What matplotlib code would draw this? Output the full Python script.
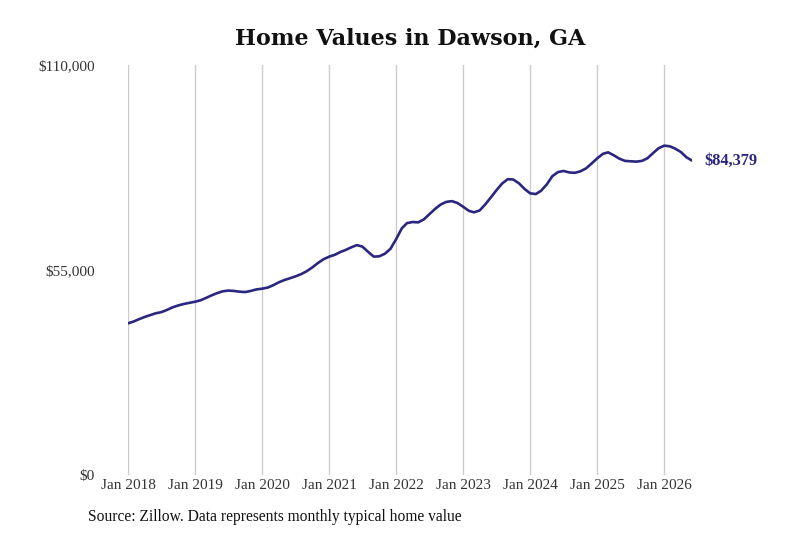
import numpy as np
import pandas as pd
import matplotlib
matplotlib.use("Agg")
import matplotlib.pyplot as plt

# Monthly typical home value, Jan 2018 - Jun 2026
values_2018 = [40700, 41200, 41800, 42400, 42900, 43400, 43700, 44300, 45000, 45500, 45900, 46200]
values_2019 = [46500, 46900, 47500, 48200, 48800, 49300, 49500, 49400, 49200, 49100, 49400, 49800]
values_2020 = [50000, 50300, 50900, 51700, 52300, 52800, 53300, 53900, 54700, 55700, 56900, 57900]
values_2021 = [58600, 59100, 59800, 60400, 61100, 61700, 61300, 59900, 58600, 58700, 59400, 60700]
values_2022 = [63300, 66200, 67600, 67900, 67800, 68600, 70000, 71400, 72600, 73300, 73500, 73000]
values_2023 = [72000, 70900, 70500, 71000, 72600, 74500, 76400, 78200, 79400, 79300, 78300, 76800]
values_2024 = [75600, 75400, 76300, 78000, 80200, 81300, 81600, 81200, 81100, 81500, 82300, 83600]
values_2025 = [85000, 86200, 86600, 85800, 84900, 84300, 84200, 84100, 84300, 85000, 86400, 87700]
values_2026 = [88400, 88200, 87600, 86700, 85300, 84379]

values = (values_2018 + values_2019 + values_2020 + values_2021 + values_2022
          + values_2023 + values_2024 + values_2025 + values_2026)
dates = pd.date_range("2018-01-01", periods=len(values), freq="MS")

tick_years = list(range(2018, 2027))
tick_dates = [pd.Timestamp(f"{y}-01-01") for y in tick_years]
tick_labels = [f"Jan {y}" for y in tick_years]

y_ticks = [0, 55000, 110000]
y_labels = ["$0", "$55,000", "$110,000"]

line_color = "#2b2680"

fig = plt.figure(figsize=(8, 5.33), dpi=100)
ax = fig.add_axes([0.16, 0.1088, 0.705, 0.769])

ax.plot(dates, values, color=line_color, linewidth=1.9, solid_capstyle="round")

ax.set_xlim(dates[0], dates[-1])
ax.set_ylim(0, 110000)

ax.set_xticks(tick_dates)
ax.set_xticklabels(tick_labels, family="Liberation Serif", fontsize=11, color="#333333")
ax.set_yticks(y_ticks)
ax.set_yticklabels(y_labels, family="Liberation Serif", fontsize=11, color="#333333")
ax.tick_params(axis="both", length=0)
ax.tick_params(axis="x", pad=3)
ax.tick_params(axis="y", pad=24)
for lbl in ax.get_yticklabels():
    lbl.set_y(0)

ax.grid(axis="x", color="#cccccc", linewidth=1)
ax.grid(axis="y", visible=False)
for s in ax.spines.values():
    s.set_visible(False)

# Last value label
ax.annotate(f"${values[-1]:,}", xy=(dates[-1], values[-1]), xytext=(9, 0),
            textcoords="offset points", va="center", ha="left",
            family="Liberation Serif", fontweight="bold", fontsize=11.8,
            color=line_color, annotation_clip=False)

fig.text(0.513, 0.928, "Home Values in Dawson, GA", ha="center", va="center",
         family="DejaVu Serif", fontweight="bold", fontsize=16, color="#111111")
fig.text(0.11, 0.03, "Source: Zillow. Data represents monthly typical home value",
         ha="left", va="center", family="Liberation Serif", fontsize=11.2, color="#111111")

fig.savefig("out.png", dpi=100)
